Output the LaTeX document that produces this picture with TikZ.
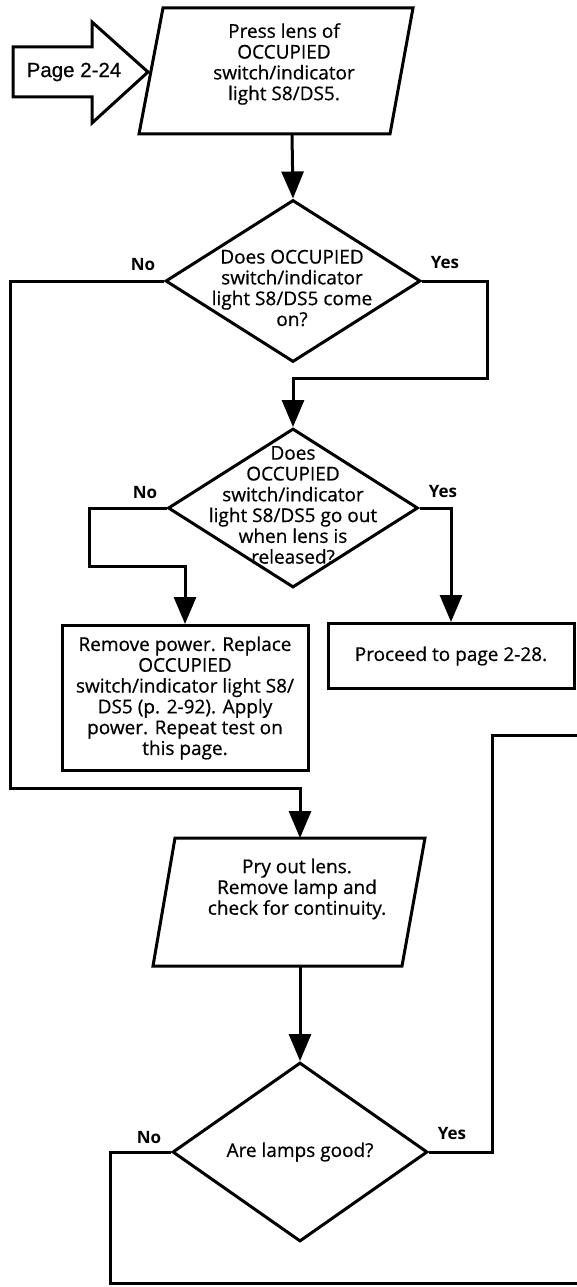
\documentclass[tikz,border=0pt]{standalone}
\usepackage{fontspec}
\setmainfont{Open Sans}
\newfontfamily\bodyfont{Open Sans}[FakeBold=0.6]
\newfontfamily\arrowfont{Liberation Sans}[FakeBold=0.6]
\usetikzlibrary{shapes.geometric,arrows.meta}

\begin{document}
\begin{tikzpicture}[x=1pt,y=-1pt,line width=3pt,
  flow/.style={-{Triangle[width=22pt,length=27pt]}},
  decision/.style={draw,diamond,inner sep=0pt},
  action/.style={draw,rectangle,inner sep=0pt},
  txt/.style={align=center,font=\bodyfont\fontsize{19}{20.8}\selectfont},
  answer/.style={font=\fontsize{17}{19}\selectfont\bfseries}]

\useasboundingbox (0,0) rectangle (576,1287);

% Entry from the previous page
\draw (13,47) -- (92,47) -- (92,22) -- (148,72) -- (92,123) -- (92,97) -- (13,97) -- cycle;
\node[font=\arrowfont\fontsize{20.5}{22}\selectfont] (entry) at (74,72) {Page 2-24};

% Press lens
\draw (139,134) -- (163,8) -- (413,8) -- (390,134) -- cycle;
\node[txt] (press) at (284,64) {Press lens of\\OCCUPIED\\switch/indicator\\light S8/DS5.};
\coordinate (press-out) at (292,134);

% First question
\node[decision,minimum width=255pt,minimum height=162pt] (q1) at (293,281) {};
\node[txt] (q1-text) at (292,288) {Does OCCUPIED\\switch/indicator\\light S8/DS5 come\\on?};
\node[answer] (q1-no) at (143,265) {No};
\node[answer] (q1-yes) at (445,263) {Yes};
\draw[flow] (press-out) -- (q1.north);

% Second question
\node[decision,minimum width=250pt,minimum height=159pt] (q2) at (293,508) {};
\node[txt] (q2-text) at (293,505) {Does\\OCCUPIED\\switch/indicator\\light S8/DS5 go out\\when lens is\\released?};
\node[answer] (q2-no) at (145,493) {No};
\node[answer] (q2-yes) at (443,492) {Yes};
\draw[flow] (q1.east) -- (487,281) -- (487,378) -- (293,378) -- (q2.north);

% Results of second question
\node[action,txt,minimum width=246pt,minimum height=145pt] (replace) at (185,698)
  {Remove power. Replace\\OCCUPIED\\switch/indicator light S8/\\DS5 (p. 2-92). Apply\\power. Repeat test on\\this page.};
\node[action,txt,minimum width=246pt,minimum height=65pt] (proceed) at (451,656) {Proceed to page 2-28.};
\draw[flow] (q2.west) -- (89,508) -- (89,566) -- (185,566) -- (replace.north);
\draw[flow] (q2.east) -| (proceed.north);

% Pry out lens
\draw (153,966) -- (175,838) -- (425,838) -- (402,966) -- cycle;
\node[txt] (pry) at (297,889) {Pry out lens.\\Remove lamp and\\check for continuity.};
\coordinate (pry-in) at (300,838);
\coordinate (pry-out) at (300,966);
\draw[flow] (q1.west) -- (10,281) -- (10,788) -- (300,788) -- (pry-in);

% Third question
\node[decision,txt,minimum width=255pt,minimum height=179pt] (q3) at (300,1152) {Are lamps good?};
\node[answer] (q3-no) at (149,1138) {No};
\node[answer] (q3-yes) at (452,1134) {Yes};
\draw[flow] (pry-out) -- (q3.north);

% Off to other pages
\coordinate (off-no) at (600,1283);
\coordinate (off-yes) at (600,735);
\draw (q3.west) -- (110,1152) -- (110,1283) -- (off-no);
\draw (q3.east) -- (492,1152) -- (492,735) -- (off-yes);

\end{tikzpicture}
\end{document}
